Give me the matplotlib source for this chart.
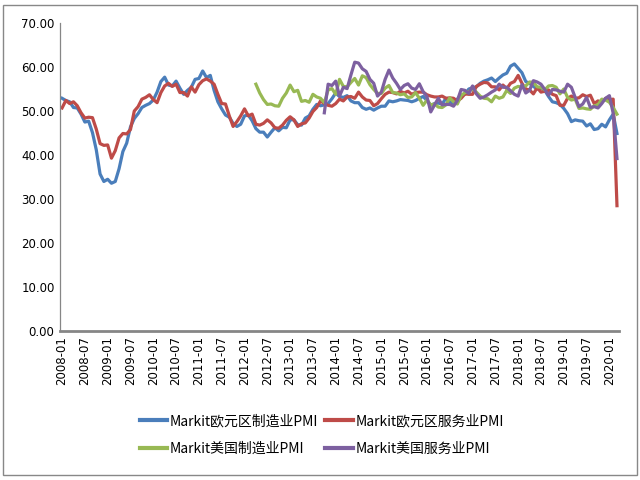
import matplotlib
matplotlib.use("Agg")
import matplotlib.pyplot as plt
from matplotlib.patches import Rectangle
import numpy as np

plt.rcParams['font.family'] = ['Noto Sans CJK SC', 'DejaVu Sans']

start_year, start_month = 2008, 1
n_months = 147  # 2008-01 .. 2020-03
months = [f"{start_year + (start_month - 1 + i) // 12}-{(start_month - 1 + i) % 12 + 1:02d}" for i in range(n_months)]

eu_mfg = [
    52.8, 52.3, 52.0, 50.7, 50.6, 49.2, 47.4, 47.6, 45.0, 41.1, 35.6, 33.9,
    34.4, 33.5, 33.9, 36.8, 40.7, 42.6, 46.3, 48.2, 49.3, 50.7, 51.2, 51.6,
    52.4, 54.2, 56.6, 57.6, 55.8, 55.6, 56.7, 55.1, 53.7, 54.6, 55.3, 57.1,
    57.3, 59.0, 57.5, 58.0, 54.6, 52.0, 50.4, 49.0, 48.5, 47.1, 46.4, 46.9,
    48.8, 49.0, 47.7, 45.9, 45.1, 45.1, 44.0, 45.1, 46.1, 45.4, 46.2, 46.1,
    47.9, 47.9, 46.8, 46.7, 48.3, 48.8, 50.3, 51.4, 51.1, 51.3, 51.6, 52.7,
    54.0, 53.2, 53.0, 53.4, 52.2, 51.8, 51.8, 50.7, 50.3, 50.6, 50.1, 50.6,
    51.0, 51.0, 52.2, 52.0, 52.2, 52.5, 52.4, 52.3, 52.0, 52.3, 52.8, 53.2,
    52.3, 51.2, 51.6, 51.7, 51.5, 52.8, 52.0, 51.7, 52.6, 53.5, 53.7, 54.9,
    55.2, 55.4, 56.2, 56.7, 57.0, 57.4, 56.6, 57.4, 58.1, 58.5, 60.1, 60.6,
    59.6, 58.6, 56.6, 56.2, 55.5, 54.9, 55.1, 54.6, 53.2, 52.0, 51.8, 51.4,
    50.5, 49.3, 47.5, 47.9, 47.7, 47.6, 46.5, 47.0, 45.7, 45.9, 46.9, 46.3,
    47.9, 49.2, 44.8,
]

eu_svc = [
    50.6, 52.3, 51.6, 52.0, 51.1, 49.5, 48.3, 48.5, 48.4, 45.8, 42.5, 42.1,
    42.2, 39.2, 40.9, 43.8, 44.8, 44.7, 45.7, 49.9, 50.9, 52.6, 53.0, 53.6,
    52.5, 51.8, 54.1, 55.6, 56.2, 55.5, 56.0, 54.1, 54.1, 53.3, 55.4, 54.2,
    55.9, 56.8, 57.2, 56.7, 56.0, 53.7, 51.6, 51.5, 48.8, 46.4, 47.5, 48.8,
    50.4, 48.8, 49.2, 46.9, 46.7, 47.1, 47.9, 47.2, 46.1, 46.0, 46.7, 47.8,
    48.6, 47.9, 46.4, 47.0, 47.2, 48.3, 49.8, 50.7, 52.2, 51.6, 51.2, 51.0,
    51.6, 52.6, 52.2, 53.1, 53.2, 52.8, 54.2, 53.1, 52.4, 52.3, 51.1, 51.6,
    52.7, 53.7, 54.2, 54.1, 53.8, 54.4, 54.0, 54.4, 53.7, 54.1, 54.2, 54.2,
    53.6, 53.3, 53.1, 53.1, 53.3, 52.8, 52.9, 52.8, 52.2, 52.8, 53.8, 53.7,
    53.7, 55.5, 56.0, 56.4, 56.3, 55.4, 55.4, 54.7, 55.8, 55.0, 56.2, 56.6,
    58.0, 56.2, 54.9, 54.7, 53.8, 55.2, 54.2, 54.4, 54.7, 53.7, 53.4, 51.2,
    51.2, 52.8, 53.3, 52.8, 52.9, 53.6, 53.2, 53.5, 51.6, 52.2, 51.9, 52.8,
    52.5, 52.6, 28.4,
]

us_mfg_start = "2012-04"
us_mfg = [
    56.0, 54.0, 52.5, 51.4, 51.5, 51.1, 51.0, 52.8, 54.0,
    55.8, 54.3, 54.6, 52.1, 52.3, 51.9, 53.7, 53.1, 52.8, 51.8, 54.7, 55.0,
    53.7, 57.1, 55.5, 55.4, 56.4, 57.3, 55.8, 57.9, 57.5, 55.9, 54.8, 53.9,
    53.9, 55.1, 55.7, 54.1, 54.0, 53.6, 53.8, 53.0, 53.1, 54.1, 52.8, 51.2,
    52.4, 51.3, 51.5, 50.8, 50.7, 51.3, 52.9, 52.0, 51.5, 53.4, 54.1, 54.3,
    55.0, 54.2, 53.3, 52.8, 52.7, 52.0, 53.3, 52.8, 53.1, 54.6, 53.9, 55.1,
    55.5, 55.3, 55.6, 56.5, 56.4, 55.4, 55.3, 54.7, 55.6, 55.7, 55.3, 53.8,
    54.9, 53.0, 52.4, 52.6, 50.5, 50.6, 50.4, 50.3, 51.1, 51.3, 52.6, 52.4,
    51.9, 50.7, 49.2,
]

us_svc_start = "2013-10"
us_svc = [
    49.5, 56.0, 55.7,
    56.7, 53.3, 55.3, 55.0, 58.1, 61.0, 60.8, 59.5, 58.9, 57.1, 56.2, 53.3,
    54.2, 57.1, 59.2, 57.4, 56.2, 54.8, 55.7, 56.1, 55.1, 54.8, 56.1, 54.3,
    53.2, 49.7, 51.3, 52.8, 51.3, 51.4, 51.4, 51.0, 52.3, 54.8, 54.6, 53.9,
    55.6, 53.8, 52.8, 53.1, 53.6, 54.2, 54.7, 56.0, 55.3, 55.3, 54.5, 53.7,
    53.3, 55.9, 54.0, 54.6, 56.8, 56.5, 56.0, 54.8, 53.5, 54.8, 54.7, 54.4,
    54.2, 56.0, 55.3, 53.0, 50.9, 51.5, 53.0, 50.7, 50.9, 50.6, 51.6, 52.8,
    53.4, 49.4, 39.1,
]

labels = ["Markit欧元区制造业PMI", "Markit欧元区服务业PMI", "Markit美国制造业PMI", "Markit美国服务业PMI"]
colors = ["#4A7EBB", "#BE4B48", "#98B954", "#7D60A0"]

fig = plt.figure(figsize=(6.4, 4.8), dpi=100)
ax = fig.add_axes([0.094, 0.311, 0.873, 0.642])

x = np.arange(n_months)
i_mfg = months.index(us_mfg_start)
i_svc = months.index(us_svc_start)
series = [
    (x, eu_mfg),
    (x, eu_svc),
    (x[i_mfg:i_mfg + len(us_mfg)], us_mfg),
    (x[i_svc:i_svc + len(us_svc)], us_svc),
]
handles = []
for (xs, ys), c, lab in zip(series, colors, labels):
    h, = ax.plot(xs, ys, color=c, lw=2.3, label=lab, solid_joinstyle='round')
    handles.append(h)

ax.set_xlim(-0.5, n_months - 0.5)
ax.set_ylim(0, 70)
ax.set_yticks(np.arange(0, 71, 10))
ax.set_yticklabels([f"{v:.2f}" for v in np.arange(0, 71, 10)], fontsize=8.5, family='DejaVu Sans')
tick_idx = list(range(0, n_months, 6))
ax.set_xticks(tick_idx)
ax.set_xticklabels([months[i] for i in tick_idx], rotation=90, fontsize=8.5, family='DejaVu Sans')
ax.tick_params(axis='both', length=0, pad=4)
for s in ['top', 'right']:
    ax.spines[s].set_visible(False)
ax.spines['left'].set_color('#868686')
ax.spines['left'].set_linewidth(0.9)
ax.spines['bottom'].set_color('#868686')
ax.spines['bottom'].set_linewidth(2.0)

# legend filled row-wise: reorder for matplotlib's column-wise fill
order = [0, 2, 1, 3]
leg = fig.legend(handles=[handles[i] for i in order], labels=[labels[i] for i in order],
                 ncol=2, loc='center',
                 bbox_to_anchor=(0.503, 0.094), frameon=False, fontsize=10,
                 handlelength=2.0, handletextpad=0.2, columnspacing=0.5,
                 labelspacing=1.0)
for line in leg.get_lines():
    line.set_linewidth(3)

fig.patches.append(Rectangle((0.005, 0.01), 0.99, 0.98, transform=fig.transFigure,
                             fill=False, edgecolor='#888888', lw=1.0))

fig.savefig("out.png", dpi=100)
